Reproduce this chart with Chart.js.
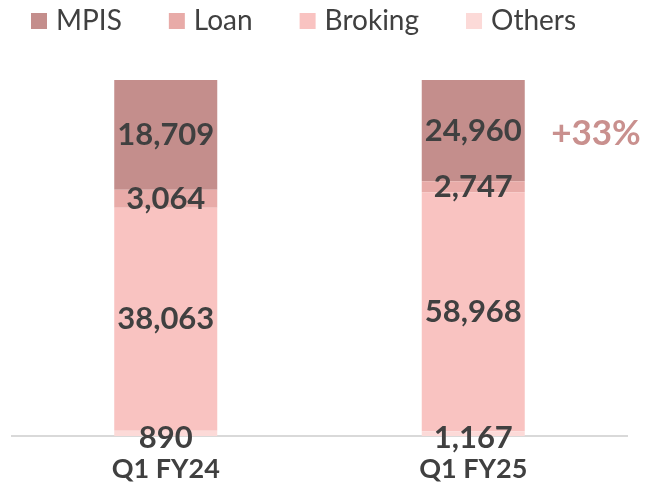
<!DOCTYPE html>
<html>
<head>
<meta charset="utf-8">
<script src="https://cdn.jsdelivr.net/npm/chart.js@4"></script>
<style>
  body { margin: 0; background: #fff; }
  #wrap { width: 648px; height: 489px; }
</style>
</head>
<body>
<div id="wrap"><canvas id="chart" width="648" height="489"></canvas></div>
<script>
// 數據
const periods = ["Q1 FY24", "Q1 FY25"];
const mpis = [18709, 24960];
const loan = [3064, 2747];
const broking = [38063, 58968];
const others = [890, 1167];

const seriesNames = ["Others", "Broking", "Loan", "MPIS"];
const seriesValues = [others, broking, loan, mpis];
const seriesColors = ["#FCDAD8", "#F9C3C1", "#E8ABA8", "#C48E8C"];

const FONT = "Lato, 'Open Sans', sans-serif";
const textColor = "#404040";

// 每一期的總數，用來換成百分比
const totals = periods.map((_, i) => seriesValues.reduce((s, arr) => s + arr[i], 0));

const datasets = seriesNames.map((name, k) => ({
  label: name,
  data: seriesValues[k].map((v, i) => v / totals[i] * 100),
  raw: seriesValues[k],
  backgroundColor: seriesColors[k],
  borderWidth: 0,
  categoryPercentage: 1,
  barPercentage: 0.335
}));

// 數字標籤 + 成長率
const labelPlugin = {
  id: "barLabels",
  afterDatasetsDraw(chart) {
    const ctx = chart.ctx;
    ctx.save();
    ctx.textAlign = "center";
    ctx.textBaseline = "middle";
    ctx.font = "bold 31px " + FONT;
    ctx.fillStyle = textColor;
    chart.data.datasets.forEach((ds, k) => {
      chart.getDatasetMeta(k).data.forEach((bar, i) => {
        let y = (bar.y + bar.base) / 2;
        if (ds.label === "Others") y = bar.base + 2;
        ctx.fillText(ds.raw[i].toLocaleString("en-US"), bar.x, y);
      });
    });
    // +33%
    const k = seriesNames.indexOf("MPIS");
    const bar = chart.getDatasetMeta(k).data[1];
    const growth = Math.round((mpis[1] / mpis[0] - 1) * 100);
    ctx.font = "bold 35px " + FONT;
    ctx.fillStyle = "#C9908E";
    ctx.fillText("+" + growth + "%", 596, (bar.y + bar.base) / 2 + 3);
    ctx.restore();
  }
};

// 圖例（自己畫，位置比較好控制）
const legendPlugin = {
  id: "topLegend",
  afterDraw(chart) {
    const ctx = chart.ctx;
    ctx.save();
    ctx.font = "28px " + FONT;
    ctx.textBaseline = "middle";
    ctx.textAlign = "left";
    let x = 31;
    const order = [3, 2, 1, 0];
    order.forEach(k => {
      const ds = chart.data.datasets[k];
      ctx.fillStyle = ds.backgroundColor;
      ctx.fillRect(x, 13, 16, 16);
      ctx.fillStyle = textColor;
      ctx.fillText(ds.label, x + 25, 21);
      x += 25 + ctx.measureText(ds.label).width + 47;
    });
    ctx.restore();
  }
};

new Chart(document.getElementById("chart"), {
  type: "bar",
  data: { labels: periods, datasets },
  plugins: [labelPlugin, legendPlugin],
  options: {
    responsive: false,
    animation: false,
    layout: { padding: { left: 12, right: 21, top: 80, bottom: -14 } },
    plugins: {
      legend: { display: false },
      tooltip: { enabled: false }
    },
    scales: {
      x: {
        stacked: true,
        grid: { display: false, drawTicks: false },
        border: { display: true, color: "#D9D9D9", width: 2 },
        ticks: {
          color: textColor,
          padding: 20,
          font: { family: FONT, size: 27, weight: "bold", lineHeight: 1 }
        }
      },
      y: {
        stacked: true,
        display: false,
        min: 0,
        max: 100
      }
    }
  }
});
</script>
</body>
</html>
